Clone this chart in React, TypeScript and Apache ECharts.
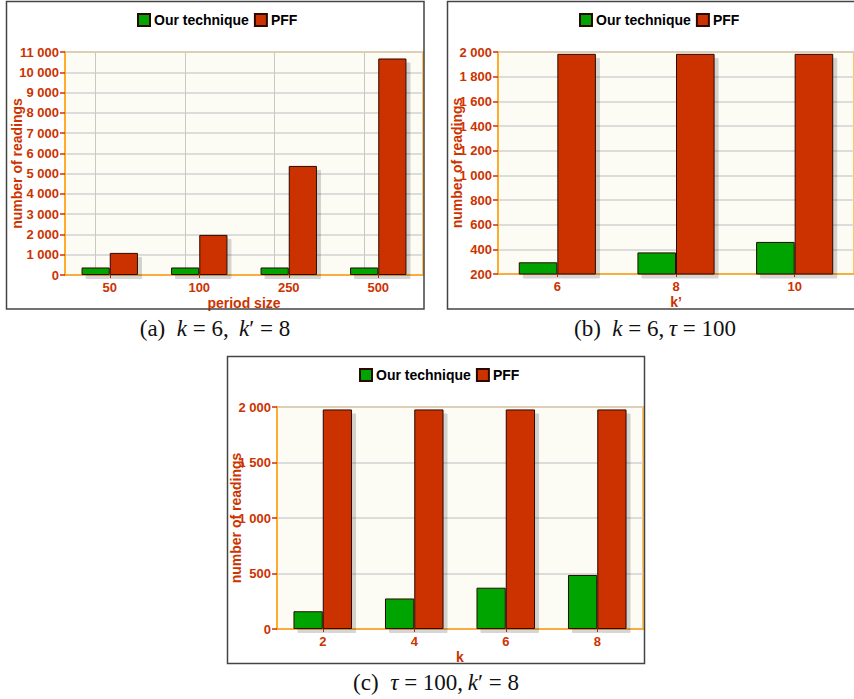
import React, { useEffect, useRef } from "react";
import * as echarts from "echarts";

const seriesNames = ["Our technique", "PFF"];

const catsA = ["50", "100", "250", "500"];
const oursA = [370, 370, 370, 370];
const pffA = [1090, 1980, 5380, 10680];

const catsB = ["6", "8", "10"];
const oursB = [295, 375, 460];
const pffB = [1985, 1985, 1985];

const catsC = ["2", "4", "6", "8"];
const oursC = [160, 275, 372, 487];
const pffC = [1978, 1978, 1978, 1978];

const captionA = "{n|(a)  }{i|k}{n| = 6,\u2009 }{i|k}{n|\u2032 = 8}";
const captionB = "{n|(b)  }{i|k}{n| = 6,\u2009}{i|\u03c4}{n| = 100}";
const captionC = "{n|(c)  }{i|\u03c4}{n| = 100,\u2009}{i|k}{n|\u2032 = 8}";

const RED = "#cc3300";
const GREEN = "#00a400";
const LABEL = "#cc3300";
const FONT = "'Liberation Sans', Arial, sans-serif";

const fmt = (v: number) => String(v).replace(/\B(?=(\d{3})+(?!\d))/g, " ");

function makeGrid(left: number, top: number, width: number, height: number) {
  return {
    left,
    top,
    width,
    height,
    show: true,
    backgroundColor: "#fcfcf4",
    borderColor: "#ffc266",
    borderWidth: 2,
    containLabel: false,
  };
}

function makeX(idx: number, cats: string[], name: string) {
  return {
    type: "category",
    gridIndex: idx,
    data: cats,
    name,
    nameLocation: "middle",
    nameGap: 21,
    nameMoveOverlap: false,
    nameTextStyle: { color: LABEL, fontWeight: "bold", fontSize: 14, fontFamily: FONT },
    axisLine: { show: true, lineStyle: { color: "#ffa31a", width: 1.5 } },
    axisTick: { show: true, alignWithLabel: true, length: 3, lineStyle: { color: RED } },
    axisLabel: { color: LABEL, fontWeight: "bold", fontSize: 13, fontFamily: FONT, margin: 6 },
    splitLine: { show: false },
  };
}

function makeY(idx: number, min: number, max: number, interval: number, gap: number) {
  return {
    type: "value",
    gridIndex: idx,
    min,
    max,
    interval,
    name: "number of readings",
    nameLocation: "middle",
    nameRotate: 90,
    nameGap: gap,
    nameMoveOverlap: false,
    nameTextStyle: { color: LABEL, fontWeight: "bold", fontSize: 14, fontFamily: FONT },
    axisLine: { show: true, lineStyle: { color: "#ffa31a", width: 1.5 } },
    axisTick: { show: true, length: 5, lineStyle: { color: RED, width: 1.5 } },
    axisLabel: {
      color: LABEL,
      fontWeight: "bold",
      fontSize: 13,
      fontFamily: FONT,
      margin: 6,
      formatter: (v: number) => fmt(v),
    },
    splitLine: { show: true, lineStyle: { color: "#d2d2d2", width: 1.5 } },
  };
}

function barStyle(color: string) {
  return {
    color,
    borderColor: "#2a0a00",
    borderWidth: 1,
    shadowColor: "rgba(0,0,0,0.16)",
    shadowBlur: 0,
    shadowOffsetX: 4,
    shadowOffsetY: 4,
  };
}

function makeSeries(idx: number, ours: number[], pff: number[], gap: string, cats?: string[]) {
  const s1: any = {
    name: seriesNames[0],
    type: "bar",
    xAxisIndex: idx,
    yAxisIndex: idx,
    data: ours,
    barGap: "0%",
    barCategoryGap: gap,
    itemStyle: barStyle(GREEN),
  };
  if (cats) {
    s1.markLine = {
      silent: true,
      z: 1,
      symbol: ["none", "none"],
      label: { show: false },
      lineStyle: { color: "#c8c8c8", type: "solid", width: 1 },
      data: cats.map((c) => ({ xAxis: c })),
    };
  }
  const s2 = {
    name: seriesNames[1],
    type: "bar",
    xAxisIndex: idx,
    yAxisIndex: idx,
    data: pff,
    barGap: "0%",
    barCategoryGap: gap,
    itemStyle: barStyle(RED),
  };
  return [s1, s2];
}

function makeLegend(left: number, top: number) {
  return {
    left,
    top,
    padding: 0,
    itemWidth: 12,
    itemHeight: 12,
    itemGap: 5,
    icon: "rect",
    selectedMode: false,
    data: seriesNames,
    textStyle: { color: "#000", fontWeight: "bold", fontSize: 14, fontFamily: FONT, padding: [0, 0, 0, -1] },
  };
}

const SERIF = "'Liberation Serif', 'DejaVu Serif', serif";
const captionRich = {
  n: { fontFamily: SERIF, fontSize: 23, fill: "#111" },
  i: { fontFamily: SERIF, fontSize: 23, fontStyle: "italic", fill: "#111" },
};

export default function App() {
  const ref = useRef<HTMLDivElement>(null);
  useEffect(() => {
    if (!ref.current) return;
    const chart = echarts.init(ref.current, null, { renderer: "svg" });
    const option: any = {
      animation: false,
      backgroundColor: "#ffffff",
      legend: [makeLegend(137, 13), makeLegend(579, 13), makeLegend(359, 368)],
      grid: [makeGrid(65, 52, 358, 223), makeGrid(498, 52, 360, 222), makeGrid(277, 407, 366, 222)],
      xAxis: [makeX(0, catsA, "period size"), makeX(1, catsB, "k\u2019"), makeX(2, catsC, "k")],
      yAxis: [makeY(0, 0, 11000, 1000, 41), makeY(1, 200, 2000, 200, 34), makeY(2, 0, 2000, 500, 34)],
      series: [
        ...makeSeries(0, oursA, pffA, "37%", catsA),
        ...makeSeries(1, oursB, pffB, "35%"),
        ...makeSeries(2, oursC, pffC, "36%"),
      ],
      graphic: [
        { type: "rect", shape: { x: 6.5, y: 1.5, width: 417.5, height: 307.5 }, style: { fill: "none", stroke: "#444", lineWidth: 1.5 }, z: 100 },
        { type: "rect", shape: { x: 447.5, y: 1.5, width: 420, height: 307.5 }, style: { fill: "none", stroke: "#444", lineWidth: 1.5 }, z: 100 },
        { type: "rect", shape: { x: 227.5, y: 356.5, width: 417, height: 307 }, style: { fill: "none", stroke: "#444", lineWidth: 1.5 }, z: 100 },
        { type: "text", x: 215, y: 328, style: { text: captionA, rich: captionRich, align: "center", verticalAlign: "middle" } },
        { type: "text", x: 655, y: 328, style: { text: captionB, rich: captionRich, align: "center", verticalAlign: "middle" } },
        { type: "text", x: 436, y: 682, style: { text: captionC, rich: captionRich, align: "center", verticalAlign: "middle" } },
      ],
    };
    chart.setOption(option);
    return () => chart.dispose();
  }, []);
  return (
    <div style={{ position: "fixed", left: 0, top: 0, width: 854, height: 699, overflow: "hidden", background: "#fff" }}>
      <div ref={ref} style={{ width: 854, height: 699 }} />
    </div>
  );
}
